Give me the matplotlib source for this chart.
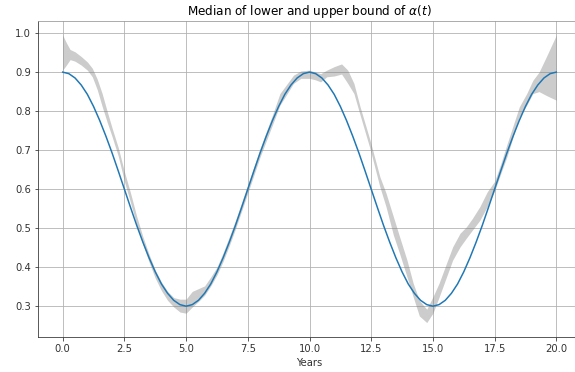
import numpy as np
import matplotlib
matplotlib.use("Agg")
import matplotlib.pyplot as plt

# median curve, read every quarter year
years = np.linspace(0, 20, 81)
median = [0.900, 0.896, 0.885, 0.867, 0.843, 0.812, 0.776, 0.736, 0.693, 0.647,
          0.600, 0.553, 0.507, 0.464, 0.424, 0.388, 0.357, 0.333, 0.315, 0.304,
          0.300, 0.304, 0.315, 0.333, 0.357, 0.388, 0.424, 0.464, 0.507, 0.553,
          0.600, 0.647, 0.693, 0.736, 0.776, 0.812, 0.843, 0.867, 0.885, 0.896,
          0.900, 0.896, 0.885, 0.867, 0.843, 0.812, 0.776, 0.736, 0.693, 0.647,
          0.600, 0.553, 0.507, 0.464, 0.424, 0.388, 0.357, 0.333, 0.315, 0.304,
          0.300, 0.304, 0.315, 0.333, 0.357, 0.388, 0.424, 0.464, 0.507, 0.553,
          0.600, 0.647, 0.693, 0.736, 0.776, 0.812, 0.843, 0.867, 0.885, 0.896,
          0.900]

# lower / upper bound band
band_t = [0.0, 0.15, 0.3, 0.5, 0.75, 1.0, 1.2, 1.4, 1.6, 1.8, 2.0, 2.25, 2.5, 2.75,
          3.0, 3.25, 3.5, 3.75, 4.0, 4.25, 4.5, 4.75, 5.0, 5.25, 5.5, 5.75, 6.0,
          6.25, 6.5, 6.75, 7.0, 7.5, 8.0, 8.5, 8.8, 9.0, 9.35, 9.65, 10.0, 10.25,
          10.45, 10.7, 11.0, 11.3, 11.55, 11.8, 12.05, 12.45, 12.85, 13.1, 13.4,
          13.65, 13.95, 14.2, 14.45, 14.75, 15.0, 15.25, 15.55, 15.8, 16.1, 16.35,
          16.6, 16.9, 17.2, 17.5, 17.75, 18.0, 18.5, 18.8, 19.05, 19.3, 19.6, 20.0]
lower = [0.905, 0.918, 0.932, 0.928, 0.918, 0.905, 0.888, 0.855, 0.812, 0.772,
         0.735, 0.685, 0.620, 0.565, 0.508, 0.458, 0.413, 0.372, 0.340, 0.315,
         0.298, 0.285, 0.282, 0.298, 0.312, 0.328, 0.352, 0.380, 0.415, 0.455,
         0.498, 0.590, 0.683, 0.765, 0.815, 0.835, 0.871, 0.884, 0.884, 0.880,
         0.875, 0.888, 0.890, 0.895, 0.871, 0.845, 0.790, 0.704, 0.606, 0.555,
         0.482, 0.435, 0.375, 0.324, 0.275, 0.258, 0.282, 0.323, 0.375, 0.418,
         0.452, 0.474, 0.495, 0.520, 0.555, 0.595, 0.640, 0.683, 0.785, 0.815,
         0.845, 0.850, 0.840, 0.828]
upper = [0.995, 0.975, 0.958, 0.952, 0.940, 0.926, 0.910, 0.882, 0.845, 0.800,
         0.757, 0.707, 0.645, 0.590, 0.530, 0.478, 0.433, 0.393, 0.362, 0.338,
         0.322, 0.318, 0.318, 0.338, 0.345, 0.352, 0.375, 0.400, 0.437, 0.478,
         0.520, 0.612, 0.705, 0.790, 0.845, 0.862, 0.892, 0.903, 0.905, 0.900,
         0.896, 0.905, 0.914, 0.921, 0.905, 0.871, 0.811, 0.726, 0.632, 0.590,
         0.529, 0.478, 0.418, 0.359, 0.315, 0.292, 0.324, 0.359, 0.410, 0.452,
         0.487, 0.503, 0.525, 0.555, 0.593, 0.620, 0.665, 0.715, 0.811, 0.845,
         0.879, 0.900, 0.940, 0.995]

fig = plt.figure(figsize=(575 / 72, 372 / 72), dpi=72)
ax = fig.add_axes([38 / 575, 35 / 372, 543 / 575, 316 / 372])

ax.fill_between(band_t, lower, upper, color='gray', alpha=0.4, linewidth=0)
ax.plot(years, median, color='#1f77b4', linewidth=1.5)

ax.set_xlim(-1, 21)
ax.set_ylim(0.221, 1.031)
ax.set_xticks(np.arange(0, 20.1, 2.5))
ax.set_yticks(np.arange(0.3, 1.01, 0.1))
ax.grid(True, color='#b0b0b0', linewidth=0.8)
ax.set_axisbelow(True)

ax.tick_params(labelsize=10, colors='#333333')
ax.set_xlabel('Years', fontsize=10, color='#333333')
ax.set_title(r'Median of lower and upper bound of $\alpha(t)$', fontsize=12)

for side in ['left', 'bottom']:
    ax.spines[side].set_color('#333333')
ax.spines['top'].set_color('#999999')

fig.savefig('out.png', dpi=72)
